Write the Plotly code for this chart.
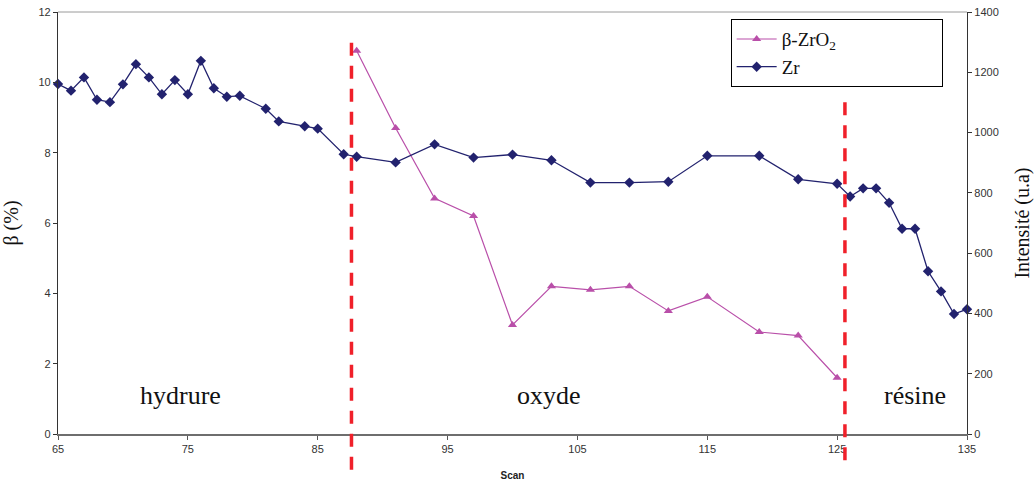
import plotly.graph_objects as go

# Zr intensity profile (right axis)
scan_zr = [65, 66, 67, 68, 69, 70, 71, 72, 73, 74, 75, 76, 77, 78, 79, 81, 82, 84, 85, 87,
           88, 91, 94, 97, 100, 103, 106, 109, 112, 115, 119, 122, 125,
           126, 127, 128, 129, 130, 131, 132, 133, 134, 135]
zr_intensity = [1161, 1139, 1183, 1109, 1101, 1160, 1227, 1183, 1127, 1174, 1127, 1238, 1147, 1119, 1122,
                1079, 1037, 1021, 1013, 928, 920, 901, 961, 917, 927, 908, 834, 834, 837,
                923, 923, 845, 830, 788, 815, 815, 767, 681, 681, 540, 473, 398, 414]

# beta-ZrO2 fraction (left axis)
scan_beta = [88, 91, 94, 97, 100, 103, 106, 109, 112, 115, 119, 122, 125]
beta_pct = [10.9, 8.7, 6.7, 6.2, 3.1, 4.2, 4.1, 4.2, 3.5, 3.9, 2.9, 2.8, 1.6]

# Region boundaries and labels
boundaries = [87.6, 125.6]
regions = ["hydrure", "oxyde", "résine"]
region_x = [74.4, 102.8, 131.0]

left_ticks = [0, 2, 4, 6, 8, 10, 12]
right_ticks = [0, 200, 400, 600, 800, 1000, 1200, 1400]
x_ticks = [65, 75, 85, 95, 105, 115, 125, 135]

NAVY = "#22226e"
MAGENTA = "#b94fa9"
PAD = "&nbsp;" * 21  # widens the legend box to the right

fig = go.Figure()
fig.add_trace(go.Scatter(
    x=scan_beta, y=beta_pct, name="β-ZrO<sub>2</sub>" + PAD, mode="lines+markers",
    line=dict(color=MAGENTA, width=1.2),
    marker=dict(symbol="triangle-up", size=8, color=MAGENTA),
    yaxis="y", cliponaxis=False))
fig.add_trace(go.Scatter(
    x=scan_zr, y=zr_intensity, name="Zr", mode="lines+markers",
    line=dict(color=NAVY, width=1.3),
    marker=dict(symbol="diamond", size=8, color=NAVY),
    yaxis="y2", cliponaxis=False))

# Dashed region separators, extending past the x axis
for bx, top, bottom in zip(boundaries, [0.948, 0.808], [-0.085, -0.062]):
    fig.add_shape(type="line", xref="x", yref="paper", x0=bx, x1=bx, y0=bottom, y1=top,
                  line=dict(color="#f0202a", width=3.5, dash="13px,10px"), layer="above")

# Top border of the plot area
fig.add_shape(type="line", xref="paper", yref="paper", x0=0, x1=1, y0=1, y1=1,
              line=dict(color="#9a9a9a", width=1))

for name, rx in zip(regions, region_x):
    fig.add_annotation(x=rx, y=1.1, xref="x", yref="y", text=name, showarrow=False,
                       font=dict(family="Liberation Serif", size=26, color="#111111"))

tick_font = dict(family="Liberation Sans", size=11, color="#333333")
fig.update_layout(
    width=1034, height=483,
    margin=dict(l=58, r=67, t=12, b=49),
    paper_bgcolor="white", plot_bgcolor="white",
    showlegend=True,
    legend=dict(x=0.740, y=0.983, xanchor="left", yanchor="top",
                bordercolor="black", borderwidth=1, bgcolor="white",
                font=dict(family="Liberation Serif", size=19, color="#111111"),
                itemwidth=40, tracegroupgap=0),
    xaxis=dict(range=[65, 135], tickvals=x_ticks, ticks="outside", ticklen=4,
               tickcolor="#555555", showline=True, linecolor="#6e6e6e", linewidth=2,
               showgrid=False, zeroline=False, tickfont=tick_font, automargin=False,
               title=dict(text="<b>Scan</b>", font=dict(family="Liberation Sans", size=10, color="#222222"),
                          standoff=18)),
    yaxis=dict(range=[0, 12], tickvals=left_ticks, ticks="outside", ticklen=4,
               tickcolor="#333333", showline=True, linecolor="#333333", linewidth=1.3,
               showgrid=False, zeroline=False, tickfont=tick_font, automargin=False,
               title=dict(text="β (%)", font=dict(family="Liberation Serif", size=20, color="#111111"),
                          standoff=18)),
    yaxis2=dict(range=[0, 1400], tickvals=right_ticks, ticks="outside", ticklen=4,
                tickcolor="#333333", showline=True, linecolor="#333333", linewidth=1.3,
                overlaying="y", side="right", showgrid=False, zeroline=False, tickfont=tick_font,
                automargin=False,
                title=dict(text="Intensité (u.a)", font=dict(family="Liberation Serif", size=20, color="#111111"),
                           standoff=22)),
)

fig.write_html("out.html")
